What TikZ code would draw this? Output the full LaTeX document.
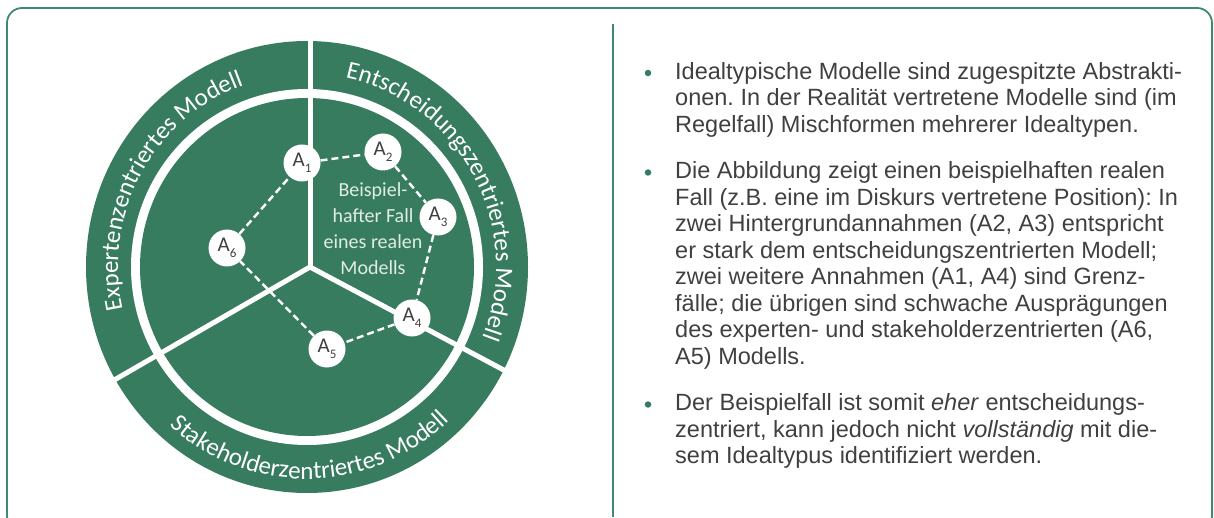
\documentclass[tikz,border=0pt]{standalone}
\usepackage{fontspec}
\setmainfont{Liberation Sans}
\newfontfamily\calib{Carlito}
\usetikzlibrary{decorations.text}
\definecolor{dg}{RGB}{56,124,96}
\definecolor{fr}{RGB}{64,138,108}
\definecolor{tx}{RGB}{64,64,64}
\definecolor{lt}{RGB}{224,236,230}
\frenchspacing
\newcommand{\anum}[1]{A\raisebox{-0.3em}{\fontsize{13}{13}\selectfont #1}}
\begin{document}
\begin{tikzpicture}[x=1pt,y=1pt,
  spoke/.style={white, line width=5},
  anode/.style={circle, fill=white, minimum size=37, inner sep=0, text=tx, font={\calib\fontsize{21}{21}\selectfont}},
  link/.style={white, line width=2.4, dash pattern=on 7 off 4},
  bul/.style={circle, fill=dg, minimum size=6.5, inner sep=0},
  txt/.style={anchor=north west, inner sep=0, align=left, text=tx, font={\fontsize{23.5}{26.5}\selectfont}},
  ringtxt/.style={decorate, decoration={text along path, text align=center, text={|\calib\fontsize{25}{25}\selectfont\color{white}|#1}}}
]
\useasboundingbox (0,0) rectangle (1214,517);
\clip (0,0) rectangle (1214,517);
% frame
\draw[fr, line width=1.8, rounded corners=15] (7,509) rectangle (1212,-14);
\coordinate (dtop) at (613,493);
\coordinate (dbot) at (613,0);
\draw[fr, line width=2] (dtop) -- (dbot);

% circle
\coordinate (O) at (307,250);
\coordinate (H) at (310,250);
\fill[dg] (O) ellipse [x radius=221, y radius=226];
\fill[white] (O) ellipse [x radius=176, y radius=178];
\fill[dg] (O) ellipse [x radius=167, y radius=169];
\begin{scope}
\clip (O) ellipse [x radius=223, y radius=228];
\draw[spoke] (H) -- ++(90:240);
\draw[spoke] (H) -- ++(-28:260);
\draw[spoke] (H) -- ++(210:260);
\end{scope}

% ring labels
\path[ringtxt={Expertenzentriertes Modell}] (O) ++(206:189 and 193) arc[start angle=206, end angle=96, x radius=189, y radius=193];
\path[ringtxt={Entscheidungszentriertes Modell}] (O) ++(85:189 and 193) arc[start angle=85, end angle=-28, x radius=189, y radius=193];
\path[ringtxt={Stakeholderzentriertes Modell}] (O) ++(217:207 and 212) arc[start angle=217, end angle=325, x radius=207, y radius=212];

% assumption nodes
\node[anode] (a1) at (302,354) {\anum{1}};
\node[anode] (a2) at (383,365) {\anum{2}};
\node[anode] (a3) at (438,300) {\anum{3}};
\node[anode] (a4) at (412,199) {\anum{4}};
\node[anode] (a5) at (327,168) {\anum{5}};
\node[anode] (a6) at (227,269) {\anum{6}};
\draw[link] (a1) -- (a2);
\draw[link] (a2) -- (a3);
\draw[link] (a3) -- (a4);
\draw[link] (a4) -- (a5);
\draw[link] (a5) -- (a6);
\draw[link] (a6) -- (a1);

\node[align=center, text=lt, inner sep=0, font={\calib\fontsize{20}{26}\selectfont}] (bf) at (373,288) {Beispiel-\\hafter Fall\\eines realen\\Modells};

% right text
\node[bul] (b1) at (648,444) {};
\node[bul] (b2) at (648,344.5) {};
\node[bul] (b3) at (648,112.5) {};
\node[txt] (t1) at (675,455) {Idealtypische Modelle sind zugespitzte Abstrakti-\\onen. In der Realität vertretene Modelle sind (im\\Regelfall) Mischformen mehrerer Idealtypen.};
\node[txt] (t2) at (675,355.5) {Die Abbildung zeigt einen beispielhaften realen\\Fall (z.B. eine im Diskurs vertretene Position): In\\zwei Hintergrundannahmen (A2, A3) entspricht\\er stark dem entscheidungszentrierten Modell;\\zwei weitere Annahmen (A1, A4) sind Grenz-\\fälle; die übrigen sind schwache Ausprägungen\\des experten- und stakeholderzentrierten (A6,\\A5) Modells.};
\node[txt] (t3) at (675,123.5) {Der Beispielfall ist somit \textit{eher} entscheidungs-\\zentriert, kann jedoch nicht \textit{vollständig} mit die-\\sem Idealtypus identifiziert werden.};
\end{tikzpicture}
\end{document}
